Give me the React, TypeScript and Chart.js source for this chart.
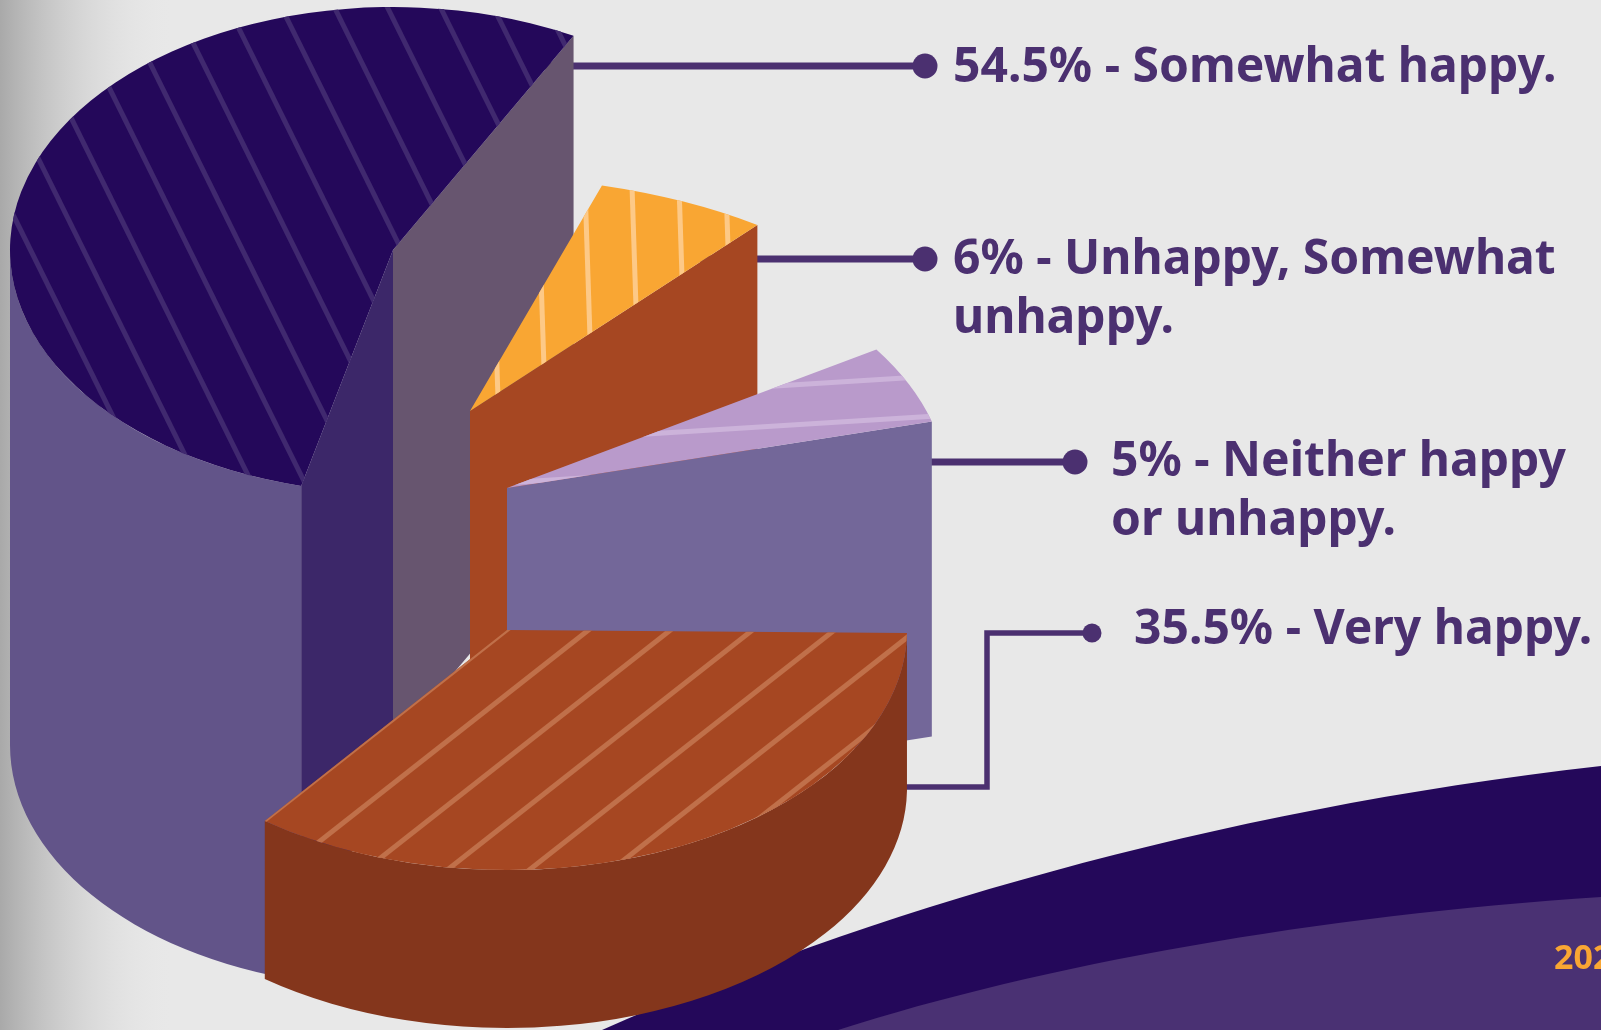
import React, { useEffect, useRef } from "react";
import Chart from "chart.js/auto";

// Survey answers, clockwise from the tall slice at the back.
const categories = [
  "Somewhat happy",
  "Unhappy, Somewhat unhappy",
  "Neither happy or unhappy",
  "Very happy",
];
const shares = [54.5, 6, 5, 35.5];
const labelTails = [
  ["- Somewhat happy."],
  ["- Unhappy, Somewhat", "unhappy."],
  ["- Neither happy", "or unhappy."],
  ["- Very happy."],
];
const topColors = ["#24085a", "#f9a633", "#b99acb", "#a64722"];
const footerYear = "2023";

const WIDTH = 1601;
const HEIGHT = 1030;
const INK = "#4b3070";

// Each slice is pulled out of the pie on its own: where its tip sits, how wide its
// ellipse is, which way it points (degrees clockwise from up) and how tall it stands.
const slicePlacement = [
  { tipX: 393, tipY: 250, rx: 383, ry: 243, facing: 291, depth: 495 },
  { tipX: 470, tipY: 411, rx: 470, ry: 235, facing: 27, depth: 265 },
  { tipX: 507, tipY: 488, rx: 440, ry: 255, facing: 66, depth: 315 },
  { tipX: 507, tipY: 630, rx: 400, ry: 240, facing: 154, depth: 158 },
];
const sliceWalls = [
  { rim: "#625489", lead: "#3c2769", trail: "#67556f" },
  { rim: "#a64722", lead: "#a64722", trail: "#a64722" },
  { rim: "#736799", lead: "#736799", trail: "#736799" },
  { rim: "#84361c", lead: "#84361c", trail: "#84361c" },
];
const sliceHatch = [
  { x: 200, y: 57, dx: 1, dy: 2.02, stepX: 53, stepY: 0, color: "#40296f" },
  { x: 585, y: 186, dx: 0.033, dy: 1, stepX: 47, stepY: 0, color: "#fdc987" },
  { x: 759, y: 427, dx: 1, dy: -0.0625, stepX: 0, stepY: 40, color: "#ccb3da" },
  { x: 301, y: 856, dx: 1, dy: -0.786, stepX: 82, stepY: 0, color: "#c0704a" },
];
const leaders = [
  { path: [[500, 66], [925, 66]], dot: 12.5, width: 7 },
  { path: [[700, 259], [925, 259]], dot: 12.5, width: 7 },
  { path: [[880, 462], [1075, 462]], dot: 12.5, width: 7 },
  { path: [[880, 787], [987, 787], [987, 633], [1092, 633]], dot: 9.5, width: 5.5 },
];
const labelAnchors = [
  { x: 953, y: 82 },
  { x: 953, y: 274 },
  { x: 1111, y: 476 },
  { x: 1134, y: 644 },
];
const labelLeading = 59;

const drawBackdrop = (ctx: CanvasRenderingContext2D) => {
  ctx.fillStyle = "#e8e8e8";
  ctx.fillRect(0, 0, WIDTH, HEIGHT);

  const shade = ctx.createLinearGradient(0, 0, 175, 0);
  shade.addColorStop(0, "#a9a9a9");
  shade.addColorStop(1, "rgba(232,232,232,0)");
  ctx.fillStyle = shade;
  ctx.fillRect(0, 0, 175, HEIGHT);

  ctx.fillStyle = "#24085a";
  ctx.beginPath();
  ctx.moveTo(602, HEIGHT);
  ctx.bezierCurveTo(860, 915, 1210, 810, WIDTH, 766);
  ctx.lineTo(WIDTH, HEIGHT);
  ctx.closePath();
  ctx.fill();

  ctx.fillStyle = "#4a3173";
  ctx.beginPath();
  ctx.moveTo(838, HEIGHT);
  ctx.bezierCurveTo(1040, 965, 1320, 915, WIDTH, 897);
  ctx.lineTo(WIDTH, HEIGHT);
  ctx.closePath();
  ctx.fill();

  ctx.fillStyle = "#f9a633";
  ctx.font = 'bold 34px "Noto Sans"';
  ctx.textAlign = "left";
  ctx.textBaseline = "alphabetic";
  ctx.fillText(footerYear, 1554, 969);
};

const drawLeaders = (ctx: CanvasRenderingContext2D) => {
  ctx.strokeStyle = INK;
  ctx.fillStyle = INK;
  leaders.forEach((leader) => {
    ctx.lineWidth = leader.width;
    ctx.beginPath();
    leader.path.forEach(([x, y], i) => (i ? ctx.lineTo(x, y) : ctx.moveTo(x, y)));
    ctx.stroke();
    const [endX, endY] = leader.path[leader.path.length - 1];
    ctx.beginPath();
    ctx.arc(endX, endY, leader.dot, 0, Math.PI * 2);
    ctx.fill();
  });
};

const drawLabels = (ctx: CanvasRenderingContext2D) => {
  ctx.fillStyle = INK;
  ctx.font = 'bold 48px "Noto Sans"';
  ctx.textAlign = "left";
  ctx.textBaseline = "alphabetic";
  labelAnchors.forEach((anchor, i) => {
    labelTails[i].forEach((tail, line) => {
      const text = line === 0 ? `${shares[i]}% ${tail}` : tail;
      ctx.fillText(text, anchor.x, anchor.y + line * labelLeading);
    });
  });
};

// Tilted, extruded pie: the sweep of every slice comes from the arc the doughnut
// controller computed; the tilt and extrusion are applied around it here.
const drawSlice = (ctx: CanvasRenderingContext2D, arc: any, i: number) => {
  const place = slicePlacement[i];
  const walls = sliceWalls[i];
  const hatch = sliceHatch[i];
  const sweep = arc.endAngle - arc.startAngle;
  const mid = ((place.facing - 90) * Math.PI) / 180;
  const start = mid - sweep / 2;
  const end = mid + sweep / 2;
  const { tipX, tipY, rx, ry, depth } = place;
  const rimPoint = (a: number) => [tipX + rx * Math.cos(a), tipY + ry * Math.sin(a)];

  const cutWall = (a: number, color: string) => {
    const [x, y] = rimPoint(a);
    ctx.fillStyle = color;
    ctx.beginPath();
    ctx.moveTo(tipX, tipY);
    ctx.lineTo(x, y);
    ctx.lineTo(x, y + depth);
    ctx.lineTo(tipX, tipY + depth);
    ctx.closePath();
    ctx.fill();
  };

  // Only the part of the rim that faces the viewer is extruded.
  for (let turn = -2; turn <= 2; turn += 1) {
    const from = Math.max(start, turn * 2 * Math.PI);
    const to = Math.min(end, turn * 2 * Math.PI + Math.PI);
    if (to > from) {
      ctx.fillStyle = walls.rim;
      ctx.beginPath();
      ctx.ellipse(tipX, tipY, rx, ry, 0, from, to);
      ctx.ellipse(tipX, tipY + depth, rx, ry, 0, to, from, true);
      ctx.closePath();
      ctx.fill();
    }
  }
  if (Math.sin(start - Math.PI / 2) > 0) cutWall(start, walls.lead);
  if (Math.cos(end) > 0) cutWall(end, walls.trail);

  // The top face is the library's own arc element under the tilt transform.
  ctx.save();
  ctx.translate(tipX, tipY);
  ctx.scale(rx / arc.outerRadius, ry / arc.outerRadius);
  ctx.rotate(mid - (arc.startAngle + arc.endAngle) / 2);
  ctx.translate(-arc.x, -arc.y);
  arc.draw(ctx);
  ctx.restore();

  // Hatching runs straight across the tilted face.
  ctx.save();
  ctx.beginPath();
  ctx.moveTo(tipX, tipY);
  ctx.ellipse(tipX, tipY, rx, ry, 0, start, end);
  ctx.closePath();
  ctx.clip();
  ctx.strokeStyle = hatch.color;
  ctx.lineWidth = 5;
  for (let k = -30; k <= 30; k += 1) {
    const x = hatch.x + k * hatch.stepX;
    const y = hatch.y + k * hatch.stepY;
    ctx.beginPath();
    ctx.moveTo(x - hatch.dx * 1500, y - hatch.dy * 1500);
    ctx.lineTo(x + hatch.dx * 1500, y + hatch.dy * 1500);
    ctx.stroke();
  }
  ctx.restore();
};

const tiltedPie = {
  id: "tiltedPie",
  beforeDraw(chart: any) {
    drawBackdrop(chart.ctx);
  },
  beforeDatasetsDraw(chart: any) {
    drawLeaders(chart.ctx);
  },
  beforeDatasetDraw(chart: any, args: any) {
    args.meta.data.forEach((arc: any, i: number) => drawSlice(chart.ctx, arc, i));
    return false;
  },
  afterDraw(chart: any) {
    drawLabels(chart.ctx);
  },
};

export default function App() {
  const canvasRef = useRef<HTMLCanvasElement | null>(null);

  useEffect(() => {
    const chart = new Chart(canvasRef.current as HTMLCanvasElement, {
      type: "pie",
      data: {
        labels: categories,
        datasets: [{ data: shares, backgroundColor: topColors, borderWidth: 0 }],
      },
      options: {
        responsive: false,
        animation: false,
        radius: 431,
        plugins: { legend: { display: false }, tooltip: { enabled: false } },
      },
      plugins: [tiltedPie],
    });
    return () => chart.destroy();
  }, []);

  return (
    <div style={{ position: "fixed", left: 0, top: 0, width: WIDTH, height: HEIGHT, overflow: "hidden" }}>
      <canvas ref={canvasRef} width={WIDTH} height={HEIGHT} style={{ display: "block" }} />
    </div>
  );
}
